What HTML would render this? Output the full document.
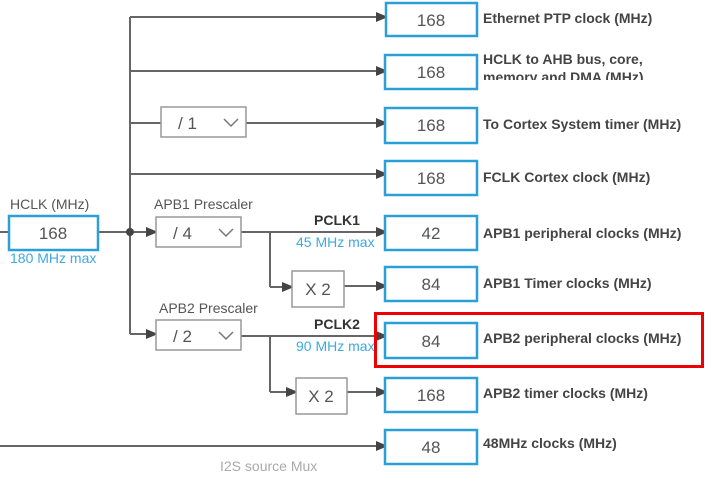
<!DOCTYPE html>
<html><head><style>
body{margin:0;width:712px;height:479px;background:#fff;overflow:hidden;font-family:"Liberation Sans",sans-serif}
</style></head><body>
<svg width="712" height="479" xmlns="http://www.w3.org/2000/svg" font-family="Liberation Sans, sans-serif">
<defs><marker id="a" markerWidth="10" markerHeight="10" refX="9" refY="5" orient="auto" markerUnits="userSpaceOnUse"><path d="M0,0 L12,5 L0,10 z" fill="#444"/></marker></defs>
<g stroke="#666" stroke-width="2" fill="none">
<line x1="130" y1="17" x2="130" y2="334"/>
<line x1="130" y1="17" x2="385" y2="17" marker-end="url(#a)"/>
<line x1="130" y1="71" x2="385" y2="71" marker-end="url(#a)"/>
<line x1="130" y1="123" x2="161" y2="123"/>
<line x1="246" y1="123" x2="385" y2="123" marker-end="url(#a)"/>
<line x1="130" y1="174" x2="385" y2="174" marker-end="url(#a)"/>
<line x1="0" y1="232" x2="8" y2="232"/>
<line x1="98" y1="232" x2="155" y2="232" marker-end="url(#a)"/>
<line x1="241" y1="232" x2="385" y2="232" marker-end="url(#a)"/>
<line x1="270" y1="232" x2="270" y2="287"/>
<line x1="270" y1="287" x2="291" y2="287" marker-end="url(#a)"/>
<line x1="344" y1="286" x2="385" y2="286" marker-end="url(#a)"/>
<line x1="130" y1="334" x2="155" y2="334" marker-end="url(#a)"/>
<line x1="241" y1="336" x2="385" y2="336" marker-end="url(#a)"/>
<line x1="270" y1="336" x2="270" y2="392"/>
<line x1="270" y1="392" x2="295" y2="392" marker-end="url(#a)"/>
<line x1="347" y1="392" x2="385" y2="392" marker-end="url(#a)"/>
<line x1="0" y1="446" x2="385" y2="446" marker-end="url(#a)"/>
</g>
<circle cx="130" cy="232" r="4" fill="#444"/>
<g fill="#fff" stroke="#999" stroke-width="1.5">
<rect x="161" y="107" width="85" height="30"/>
<rect x="156" y="217" width="85" height="30"/>
<rect x="156" y="320" width="85" height="30"/>
<rect x="292" y="271" width="52" height="36"/>
<rect x="296" y="378" width="51" height="36"/>
</g>
<g fill="none" stroke="#777" stroke-width="1.5">
<polyline points="224,119 231,126 238,119"/>
<polyline points="219,229 226,236 233,229"/>
<polyline points="219,332 226,339 233,332"/>
</g>
<g font-size="17" fill="#555">
<text x="178" y="129">/ 1</text>
<text x="173" y="239">/ 4</text>
<text x="173" y="342">/ 2</text>
<text x="318" y="295" text-anchor="middle">X 2</text>
<text x="321" y="402" text-anchor="middle">X 2</text>
</g>
<g fill="#fff" stroke="#2a9fd8" stroke-width="2.5">
<rect x="9" y="216" width="89" height="34"/>
<rect x="386" y="3" width="91" height="33"/>
<rect x="385" y="55" width="92" height="34"/>
<rect x="385" y="108" width="92" height="35"/>
<rect x="385" y="161" width="92" height="34"/>
<rect x="385" y="216" width="92" height="34"/>
<rect x="385" y="267" width="92" height="34"/>
<rect x="385" y="323" width="92" height="35"/>
<rect x="385" y="378" width="92" height="34"/>
<rect x="385" y="430" width="92" height="34"/>
</g>
<rect x="375.5" y="313.5" width="327" height="53" fill="none" stroke="#e00" stroke-width="3"/>
<g font-size="17" fill="#555" text-anchor="middle">
<text x="53" y="239">168</text>
<text x="431" y="26">168</text>
<text x="431" y="78">168</text>
<text x="431" y="131">168</text>
<text x="431" y="184">168</text>
<text x="431" y="239">42</text>
<text x="431" y="290">84</text>
<text x="431" y="347">84</text>
<text x="431" y="401">168</text>
<text x="431" y="453">48</text>
</g>
<g font-size="14" font-weight="bold" fill="#444">
<text x="483" y="23">Ethernet PTP clock (MHz)</text>
<text x="483" y="64">HCLK to AHB bus, core,</text>
<svg x="483" y="66" width="230" height="14" overflow="hidden"><text x="0" y="16">memory and DMA (MHz)</text></svg>
<text x="483" y="129">To Cortex System timer (MHz)</text>
<text x="483" y="182">FCLK Cortex clock (MHz)</text>
<text x="483" y="238">APB1 peripheral clocks (MHz)</text>
<text x="483" y="288">APB1 Timer clocks (MHz)</text>
<text x="483" y="343">APB2 peripheral clocks (MHz)</text>
<text x="483" y="398">APB2 timer clocks (MHz)</text>
<text x="483" y="448">48MHz clocks (MHz)</text>
<text x="314" y="225" fill="#333">PCLK1</text>
<text x="314" y="329" fill="#333">PCLK2</text>
</g>
<g font-size="14" fill="#555">
<text x="10" y="209">HCLK (MHz)</text>
<text x="154" y="209">APB1 Prescaler</text>
<text x="159" y="313">APB2 Prescaler</text>
</g>
<g font-size="14" fill="#3fa9e0">
<text x="10" y="263">180 MHz max</text>
<text x="296" y="247">45 MHz max</text>
<text x="296" y="351">90 MHz max</text>
</g>
<text x="220" y="471" font-size="14" fill="#aaa">I2S source Mux</text>
</svg>
</body></html>
